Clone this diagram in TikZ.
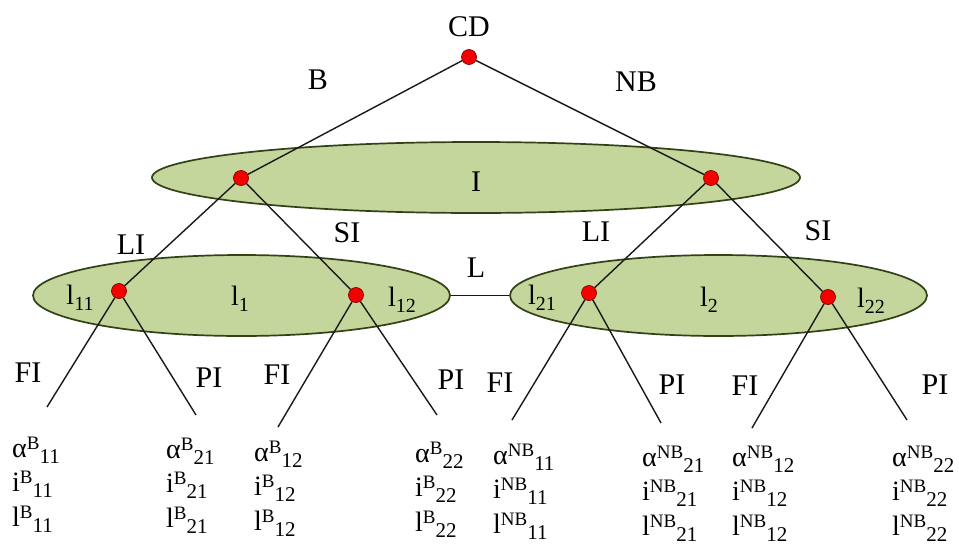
\documentclass[tikz,border=0pt]{standalone}
\usepackage{fontspec}
\setmainfont{Liberation Serif}
\usetikzlibrary{shapes.geometric}

\definecolor{zonefill}{RGB}{196,214,155}
\definecolor{zoneedge}{RGB}{50,66,22}
\definecolor{dotred}{RGB}{245,0,0}
\definecolor{dotedge}{RGB}{130,0,0}

% letter with a raised superscript followed by a lowered subscript
\newcommand\supsub[3]{#1\raisebox{8pt}{\fontsize{19}{19}\selectfont #2}\raisebox{-6pt}{\fontsize{21}{21}\selectfont #3}}
% letter l with a lowered index
\newcommand\lsub[1]{l\raisebox{-6pt}{\fontsize{20}{20}\selectfont #1}}

\begin{document}
\begin{tikzpicture}[x=1pt,y=-1pt,
  zone/.style={ellipse, draw=zoneedge, line width=1.7pt, fill=zonefill, inner sep=0pt},
  choice/.style={circle, fill=dotred, draw=dotedge, line width=0.7pt, minimum size=15pt, inner sep=0pt},
  branch/.style={line width=1.4pt, black!90},
  lbl/.style={font=\fontsize{30}{32}\selectfont, inner sep=0pt},
  setlbl/.style={font=\fontsize{28}{30}\selectfont, inner sep=0pt},
  leaf/.style={font=\fontsize{28}{30}\selectfont, anchor=base west, inner sep=0pt}]
\useasboundingbox (0,0) rectangle (959,544);

% information sets
\node[zone, minimum width=648pt, minimum height=71pt] (I) at (476,177.5) {};
\node[zone, minimum width=417pt, minimum height=81pt] (L1) at (241.5,295.5) {};
\node[zone, minimum width=417pt, minimum height=81pt] (L2) at (718.5,295.5) {};
\draw[branch] (L1.east) -- (L2.west);

% decision points
\node[choice] (cd) at (469,57) {};
\node[choice] (b)  at (241,178) {};
\node[choice] (nb) at (711,178) {};
\node[choice] (b1) at (119,291) {};
\node[choice] (b2) at (356,295) {};
\node[choice] (n1) at (589,293) {};
\node[choice] (n2) at (828,297) {};

% free ends of the last branches
\coordinate (e1) at (47,407);
\coordinate (e2) at (196,415);
\coordinate (e3) at (278,427);
\coordinate (e4) at (437,415);
\coordinate (e5) at (512,420);
\coordinate (e6) at (661,423);
\coordinate (e7) at (752,428);
\coordinate (e8) at (907,420);

% branches
\draw[branch] (cd) -- (b);
\draw[branch] (cd) -- (nb);
\draw[branch] (b) -- (b1);
\draw[branch] (b) -- (b2);
\draw[branch] (nb) -- (n1);
\draw[branch] (nb) -- (n2);
\draw[branch] (b1) -- (e1);
\draw[branch] (b1) -- (e2);
\draw[branch] (b2) -- (e3);
\draw[branch] (b2) -- (e4);
\draw[branch] (n1) -- (e5);
\draw[branch] (n1) -- (e6);
\draw[branch] (n2) -- (e7);
\draw[branch] (n2) -- (e8);

% branch and set labels
\node[lbl] (tCD) at (469,27) {CD};
\node[lbl] (tB)  at (318,80) {B};
\node[lbl] (tNB) at (636,82) {NB};
\node[lbl] (tI)  at (476,182) {I};
\node[lbl] (tLI1) at (131,245) {LI};
\node[lbl] (tSI1) at (347,233) {SI};
\node[lbl] (tLI2) at (596,232) {LI};
\node[lbl] (tSI2) at (818,231) {SI};
\node[lbl] (tL)  at (476,268) {L};
\node[setlbl] (tl11) at (80,298) {\lsub{11}};
\node[setlbl] (tl1)  at (240,299) {\lsub{1}};
\node[setlbl] (tl12) at (402,300) {\lsub{12}};
\node[setlbl] (tl21) at (542,298) {\lsub{21}};
\node[setlbl] (tl2)  at (709,300) {\lsub{2}};
\node[setlbl] (tl22) at (871,301) {\lsub{22}};
\node[lbl] (tFI1) at (28,373) {FI};
\node[lbl] (tPI1) at (209,378) {PI};
\node[lbl] (tFI2) at (277,375) {FI};
\node[lbl] (tPI2) at (451,380) {PI};
\node[lbl] (tFI3) at (500,383) {FI};
\node[lbl] (tPI3) at (672,385) {PI};
\node[lbl] (tFI4) at (745,386) {FI};
\node[lbl] (tPI4) at (935,385) {PI};

% payoffs under each final branch
\foreach \px/\py/\who/\idx/\nm in {12/457/B/11/p1, 166/458/B/21/p2, 254/461/B/12/p3, 415/462/B/22/p4,
                                  493/464/NB/11/p5, 642/466/NB/21/p6, 732/466/NB/12/p7, 892/466/NB/22/p8}{
  \node[leaf] (\nm a) at (\px,\py) {\supsub{α}{\who}{\idx}};
  \node[leaf] (\nm i) at (\px,\py+34.5) {\supsub{i}{\who}{\idx}};
  \node[leaf] (\nm l) at (\px,\py+69) {\supsub{l}{\who}{\idx}};
}
\end{tikzpicture}
\end{document}
